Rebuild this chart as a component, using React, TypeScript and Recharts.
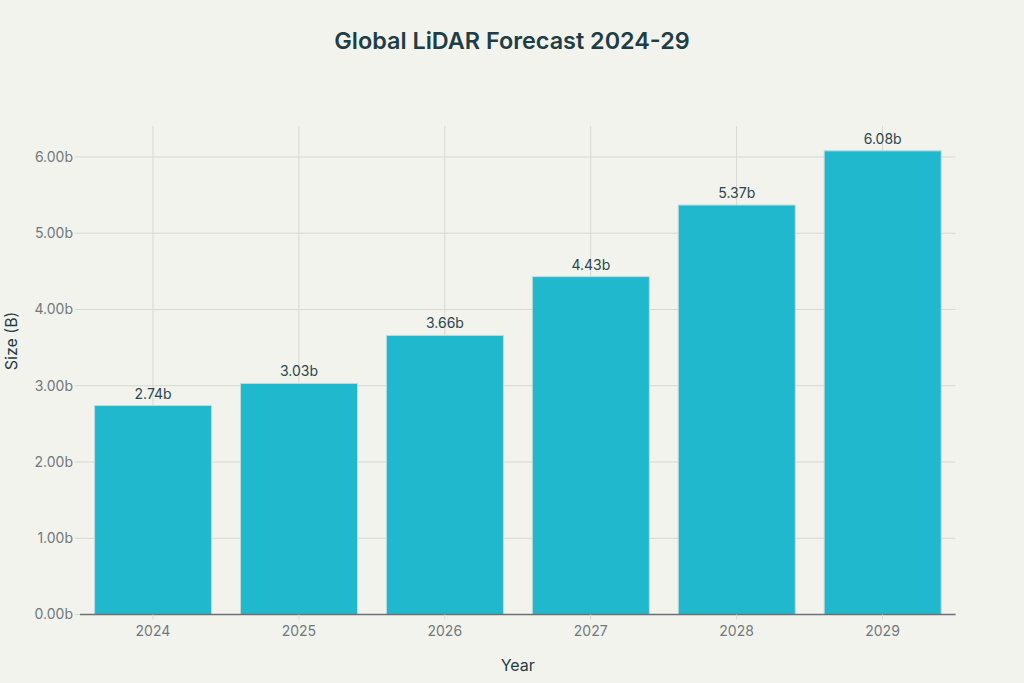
import { BarChart, Bar, XAxis, YAxis, CartesianGrid, LabelList } from 'recharts';

const years = ['2024', '2025', '2026', '2027', '2028', '2029'];
const sizes = [2.74, 3.03, 3.66, 4.43, 5.37, 6.08];
const yTicks = [0, 1, 2, 3, 4, 5, 6];

const data = years.map((year, i) => ({ year, size: sizes[i] }));

const font = 'Inter, "Noto Sans", sans-serif';

export default function App() {
  return (
    <div style={{ position: 'absolute', left: 0, top: 0, width: 1024, height: 683, background: '#f3f3ee', fontFamily: font }}>
      <div style={{ position: 'absolute', top: 26, left: 0, width: 1024, textAlign: 'center', fontSize: 23.4, fontWeight: 600, color: '#1f3d45' }}>
        Global LiDAR Forecast 2024-29
      </div>
      <BarChart
        width={1024}
        height={683}
        data={data}
        margin={{ top: 126, right: 68.5, bottom: 38.5, left: 0 }}
        barCategoryGap="10%"
      >
        <CartesianGrid stroke="#d8d8d3" syncWithTicks />
        <XAxis
          dataKey="year"
          height={30}
          tickSize={5}
          tickLine={{ stroke: '#d8d8d3' }}
          axisLine={{ stroke: '#6b7073', strokeWidth: 1.3 }}
          tick={{ fill: '#70797c', fontSize: 14 }}
          tickMargin={7}
          label={{ value: 'Year', position: 'bottom', offset: 15, fill: '#1f3d45', fontSize: 16 }}
        />
        <YAxis
          domain={[0, 6.406]}
          ticks={yTicks}
          tickFormatter={(v: number) => `${v.toFixed(2)}b`}
          axisLine={false}
          tickSize={5}
          tickMargin={2}
          tickLine={{ stroke: '#d8d8d3' }}
          width={80}
          tick={{ fill: '#70797c', fontSize: 14 }}
          label={{ value: 'Size (B)', angle: -90, position: 'insideLeft', offset: 11, fill: '#1f3d45', fontSize: 16 }}
        />
        <Bar dataKey="size" fill="#1fb8cd" stroke="#c4d8d8" strokeWidth={1} isAnimationActive={false}>
          <LabelList dataKey="size" position="top" offset={7} formatter={(v: number) => `${v.toFixed(2)}b`} fill="#2a464e" fontSize={14} />
        </Bar>
      </BarChart>
    </div>
  );
}
